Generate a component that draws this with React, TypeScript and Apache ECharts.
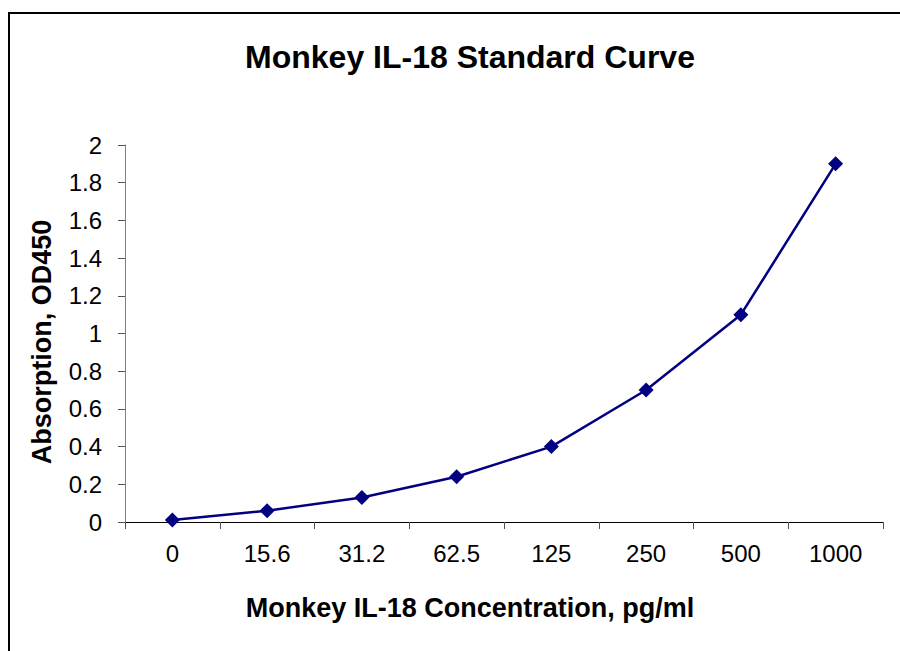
import React, { useEffect, useRef } from "react";
import * as echarts from "echarts";

const categories = ["0", "15.6", "31.2", "62.5", "125", "250", "500", "1000"];
const odValues = [0.01, 0.06, 0.13, 0.24, 0.4, 0.7, 1.1, 1.9];
const titleText = "Monkey IL-18 Standard Curve";
const xName = "Monkey IL-18 Concentration, pg/ml";
const yName = "Absorption, OD450";

export default function App() {
  const ref = useRef<HTMLDivElement>(null);
  useEffect(() => {
    if (!ref.current) return;
    const chart = echarts.init(ref.current, null, { renderer: "svg" });
    const font = "Arial, 'Liberation Sans', sans-serif";
    chart.setOption({
      animation: false,
      backgroundColor: "#fff",
      title: {
        text: titleText,
        left: 465,
        top: 36,
        textAlign: "center",
        textStyle: { fontFamily: font, fontSize: 32, fontWeight: "bold", color: "#000" },
      },
      graphic: [
        {
          type: "rect",
          shape: { x: 9, y: 13, width: 920, height: 700 },
          style: { fill: "none", stroke: "#000", lineWidth: 2 },
          silent: true,
        },
      ],
      grid: { left: 125, right: 17, top: 145, bottom: 129 },
      xAxis: {
        type: "category",
        data: categories,
        boundaryGap: true,
        name: xName,
        nameLocation: "middle",
        nameGap: 72,
        nameTextStyle: {
          fontFamily: font,
          fontSize: 27,
          fontWeight: "bold",
          color: "#000",
          padding: [0, 68, 0, 0],
        },
        axisLine: { lineStyle: { color: "#000", width: 1 } },
        axisTick: { show: true, length: 7, lineStyle: { color: "#555" } },
        axisLabel: { fontFamily: font, fontSize: 24, color: "#000", margin: 19 },
      },
      yAxis: {
        type: "value",
        min: 0,
        max: 2,
        interval: 0.2,
        name: yName,
        nameLocation: "middle",
        nameGap: 70,
        nameTextStyle: {
          fontFamily: font,
          fontSize: 27,
          fontWeight: "bold",
          color: "#000",
          padding: [0, 17, 0, 0],
        },
        axisLine: { show: true, lineStyle: { color: "#808080", width: 1 } },
        axisTick: { show: true, length: 7, lineStyle: { color: "#555" } },
        splitLine: { show: false },
        axisLabel: {
          fontFamily: font,
          fontSize: 24,
          color: "#000",
          margin: 23,
          formatter: (v: number) => String(Math.round(v * 10) / 10),
        },
      },
      series: [
        {
          type: "line",
          data: odValues,
          symbol: "diamond",
          symbolSize: [15, 15],
          lineStyle: { color: "#000080", width: 2.5 },
          itemStyle: { color: "#000080" },
        },
      ],
    });
    return () => chart.dispose();
  }, []);
  return (
    <div
      ref={ref}
      style={{ position: "fixed", left: 0, top: 0, width: 900, height: 651 }}
    />
  );
}
